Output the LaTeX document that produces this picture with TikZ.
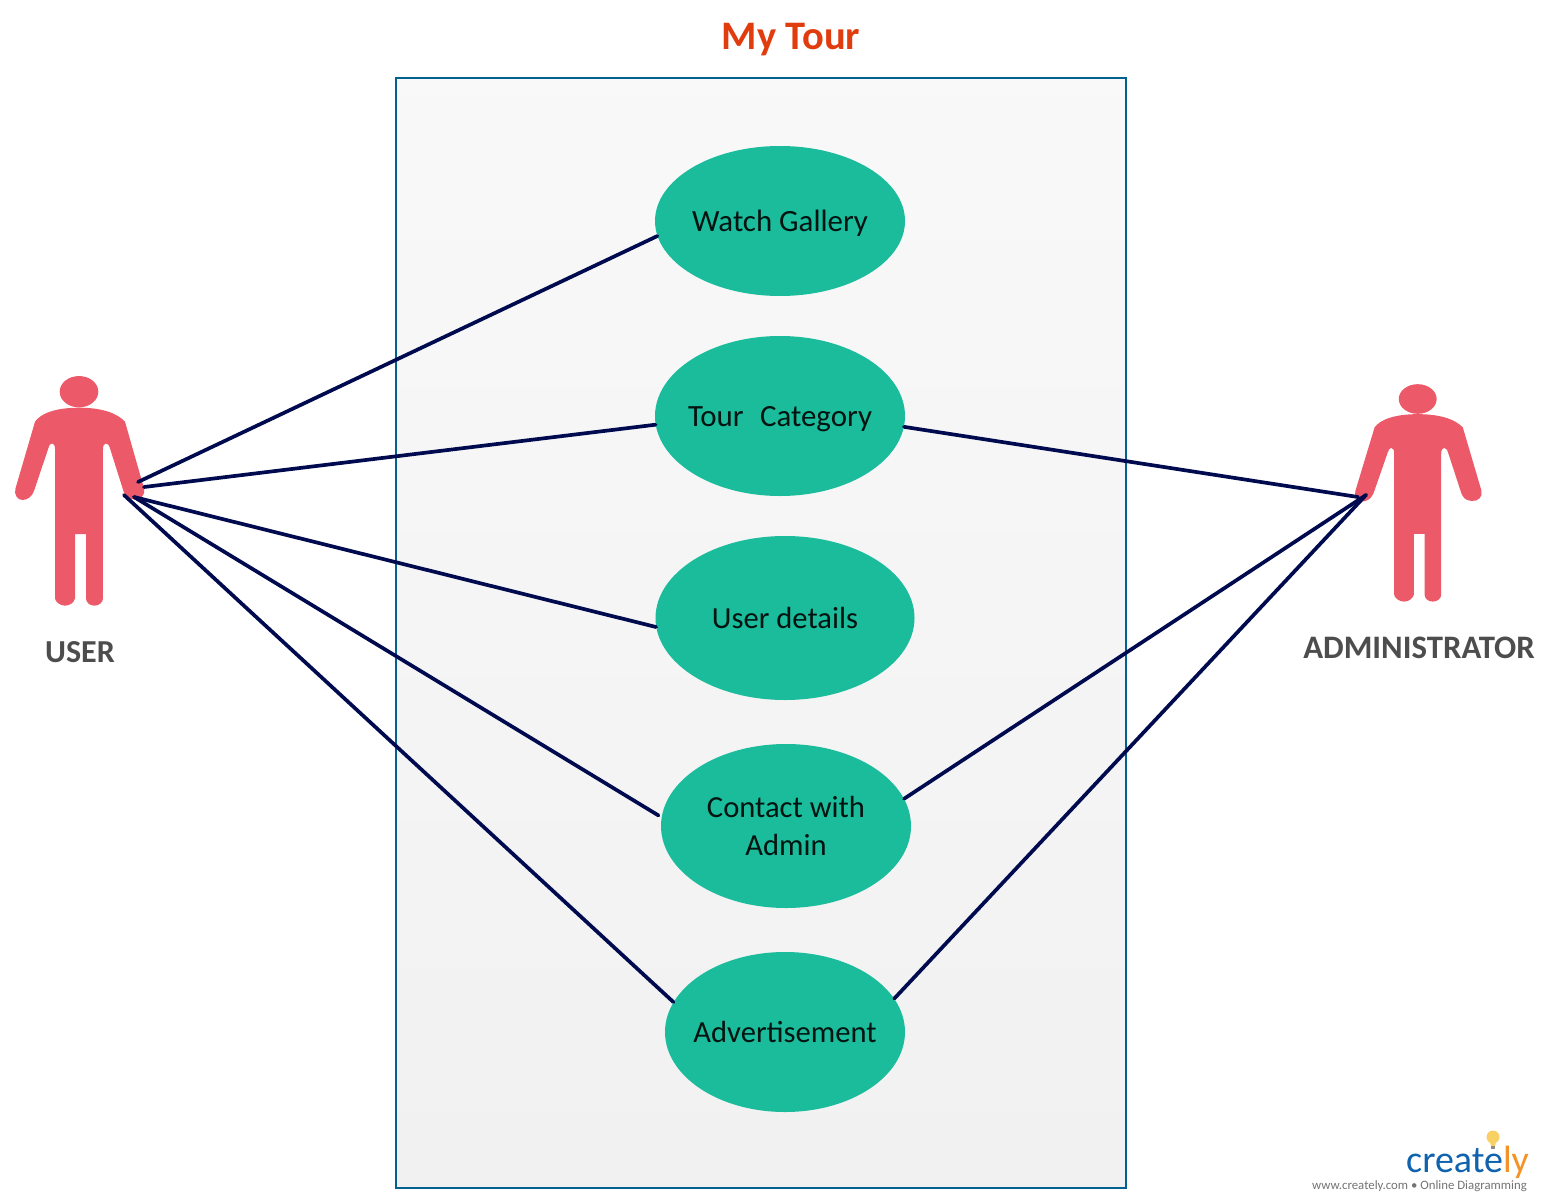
\documentclass[tikz,border=0pt]{standalone}
\usepackage{fontspec}
\setmainfont{Carlito}
\usetikzlibrary{shapes.geometric}
\definecolor{usecase}{HTML}{1ABC9C}
\definecolor{actorred}{HTML}{EC5A69}
\definecolor{linknavy}{HTML}{000A4F}
\definecolor{frameblue}{HTML}{02618F}
\definecolor{titlered}{HTML}{E03C0E}
\definecolor{labelgrey}{HTML}{4D4D4D}
\definecolor{logoblue}{HTML}{0F62AE}
\definecolor{logoorange}{HTML}{F39325}
\definecolor{bulb}{HTML}{F8D064}
\newcommand{\uclabel}[1]{\makebox[0pt]{#1}}
\tikzset{
  usecasenode/.style={ellipse,fill=usecase,draw=none,inner sep=0pt,align=center,text=black!90!usecase,font=\fontsize{30.6}{37.5}\selectfont},
  uctext/.style={text=black!90!usecase,font=\fontsize{30.9}{37.5}\selectfont,inner sep=0pt},
  actorlabel/.style={text=labelgrey,inner sep=0pt},
  link/.style={draw=linknavy,line width=3.7pt,line cap=round},
  actorfill/.style={fill=actorred,draw=none},
  person/.pic={
    \fill[actorfill] (0,0) ellipse [x radius=58,y radius=47];
    \fill[actorfill] (0,48)
      .. controls (70,48) and (115,65) .. (138,90)
      -- (195,290)
      .. controls (200,310) and (185,325) .. (165,323)
      .. controls (145,322) and (138,310) .. (134,300)
      -- (93,170)
      .. controls (88,150) and (72,150) .. (72,172)
      -- (72,620)
      .. controls (72,632) and (60,642) .. (46,642)
      .. controls (32,642) and (21,632) .. (21,620)
      -- (21,427) -- (-12,427) -- (-12,620)
      .. controls (-14,632) and (-28,642) .. (-42,642)
      .. controls (-56,642) and (-72,630) .. (-72,620)
      -- (-72,172)
      .. controls (-72,150) and (-88,150) .. (-92,170)
      -- (-134,295)
      .. controls (-140,315) and (-155,325) .. (-170,325)
      .. controls (-185,325) and (-195,308) .. (-191,292)
      -- (-132,90)
      .. controls (-115,65) and (-70,48) .. (0,48) -- cycle;
  }
}
\begin{document}
\begin{tikzpicture}[x=1pt,y=-1pt]
\useasboundingbox (0,0) rectangle (1541,1201);
\shade[top color=black!2.5,bottom color=black!5.5,draw=frameblue,line width=1.6pt] (396,78) rectangle (1126,1188);
\node[text=titlered,font=\fontsize{40.5}{48}\selectfont\bfseries,inner sep=0pt] (title) at (791,40) {My Tour};

\node[usecasenode,minimum width=250pt,minimum height=150pt] (gallery) at (780,221) {};
\node[uctext] (gallerytext) at (780,223.5) {Watch Gallery};
\node[usecasenode,minimum width=250pt,minimum height=160pt] (tour) at (780,416) {};
\node[uctext] (tourtext) at (780,419.5) {Tour\ \ \hspace{2.5pt}Category};
\node[usecasenode,minimum width=259pt,minimum height=164pt] (details) at (785,618) {\uclabel{User details}};
\node[usecasenode,minimum width=250pt,minimum height=164pt] (contact) at (786,826) {Contact with\\Admin};
\node[usecasenode,minimum width=240pt,minimum height=160pt] (advert) at (785,1032) {\uclabel{Advertisement}};

\begin{scope}[shift={(79,391.7)},x=0.3333pt,y=-0.3333pt]
  \pic {person};
\end{scope}
\begin{scope}[shift={(1417.7,399)},x=0.3267pt,y=-0.3156pt]
  \pic {person};
\end{scope}

\coordinate (uhanda) at (138,482);
\coordinate (uhandb) at (144,487);
\coordinate (uhandc) at (134,497);
\coordinate (uhandd) at (124,495);
\coordinate (ahanda) at (1358,497);
\coordinate (ahandb) at (1366,495);

\draw[link] (uhanda) -- (gallery.187.5);
\draw[link] (uhandb) -- (tour.184.5);
\draw[link] (uhandc) -- (details.184);
\draw[link,shorten >=3.5pt] (uhandc) -- (contact.176);
\draw[link] (uhandd) -- (advert.165);
\draw[link] (tour.355.4) -- (ahanda);
\draw[link] (contact.13.8) -- (ahandb);
\draw[link] (advert.17.8) -- (ahandb);

\node[actorlabel,font=\fontsize{32}{36}\selectfont\bfseries] (userlabel) at (80,652) {USER};
\node[actorlabel,font=\fontsize{32.8}{36}\selectfont\bfseries] (adminlabel) at (1419,648) {ADMINISTRATOR};

\fill[bulb] (1493,1137) circle [radius=6.5];
\fill[bulb] (1489.5,1140) -- (1496.5,1140) -- (1495,1146) -- (1491,1146) -- cycle;
\fill[black!45] (1491,1146) rectangle (1495,1149);
\node[anchor=base west,inner sep=0pt,font=\fontsize{38}{40}\selectfont,text=logoblue] (logo) at (1406,1172) {create\textcolor{logoorange}{ly}};
\node[anchor=base east,inner sep=0pt,font=\fontsize{12.8}{14}\selectfont,text=black!55] (tagline) at (1527,1189) {www.creately.com • Online Diagramming};
\end{tikzpicture}
\end{document}
